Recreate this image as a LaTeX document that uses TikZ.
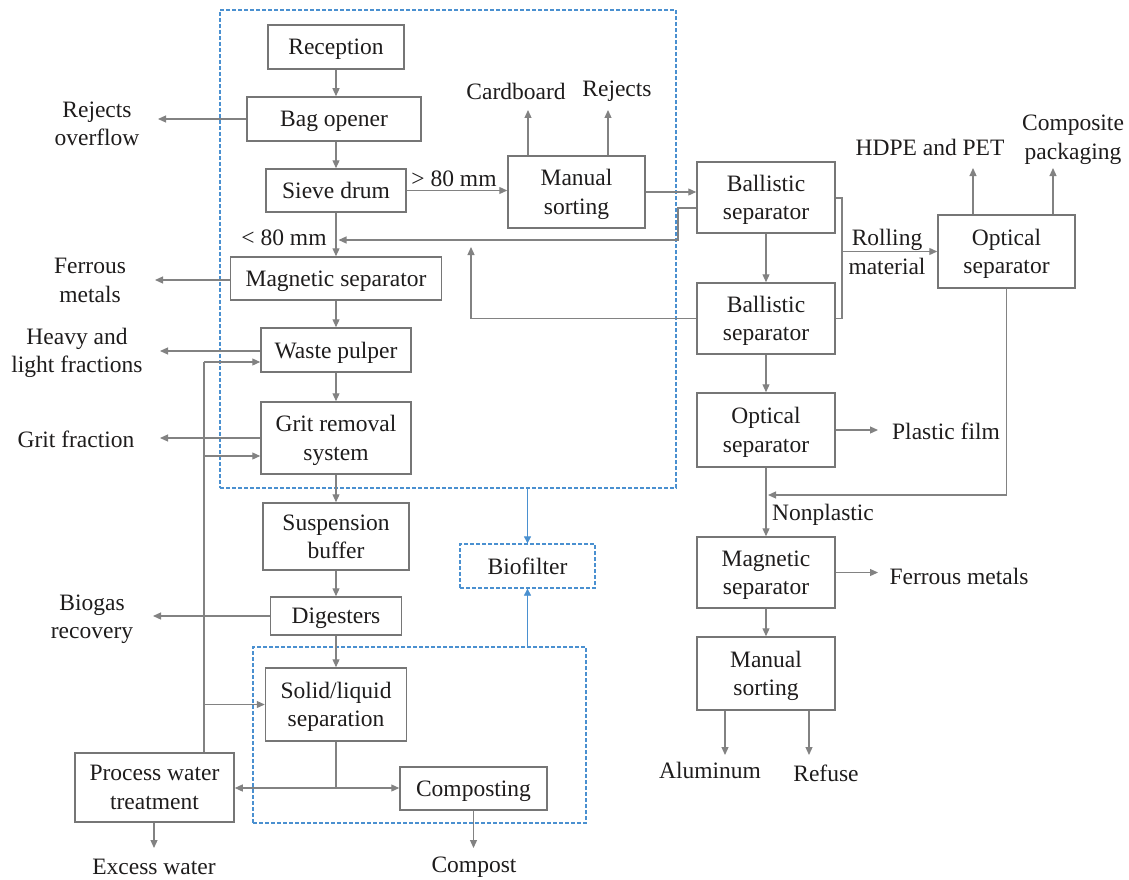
\documentclass[tikz,border=0pt]{standalone}
\usepackage{fontspec}
\setmainfont{Liberation Serif}
\usetikzlibrary{arrows.meta}
\definecolor{linegray}{RGB}{130,130,130}
\definecolor{boxgray}{RGB}{118,118,118}
\definecolor{inkc}{RGB}{30,28,28}
\definecolor{zoneblue}{RGB}{74,144,208}
\begin{document}
\begin{tikzpicture}[x=1pt,y=-1pt,
  every node/.style={font=\fontsize{23.5}{28.5}\selectfont, text=inkc, align=center, inner sep=0pt},
  box/.style={draw=boxgray, line width=1.5pt, text depth=-4pt},
  flow/.style={draw=linegray, line width=1.2pt, -{Triangle[length=8pt,width=7pt]}},
  plain/.style={draw=linegray, line width=1.2pt},
  zone/.style={draw=zoneblue, line width=1.2pt, dash pattern=on 4pt off 2pt},
  zflow/.style={draw=zoneblue, line width=0.7pt, -{Triangle[length=7pt,width=7pt]}}]
\useasboundingbox (0,0) rectangle (1129,880);

% dashed enclosures
\node[zone, minimum width=456, minimum height=478] (zoneA) at (448,249) {};
\node[zone, minimum width=333, minimum height=176] (zoneB) at (419.5,735) {};

% main process boxes
\node[box, minimum width=136, minimum height=44] (rec) at (336,47) {Reception};
\node[box, minimum width=174, minimum height=44] (bag) at (334,119) {Bag opener};
\node[box, minimum width=140, minimum height=43] (sieve) at (336,190.5) {Sieve drum};
\node[box, minimum width=211, minimum height=43] (mag) at (336,278.5) {Magnetic separator};
\node[box, minimum width=150, minimum height=44] (pulp) at (336,350) {Waste pulper};
\node[box, minimum width=150, minimum height=72] (grit) at (336,438) {Grit removal\\system};
\node[box, minimum width=146, minimum height=67] (susp) at (336,536.5) {Suspension\\buffer};
\node[box, minimum width=131, minimum height=38] (dig) at (336,616) {Digesters};
\node[box, minimum width=141, minimum height=73] (sol) at (336,704.5) {Solid/liquid\\separation};
\node[box, minimum width=147, minimum height=43] (comp) at (473.5,788.5) {Composting};
\node[box, minimum width=159, minimum height=69] (pwt) at (154.5,787.5) {Process water\\treatment};
\node[zone, minimum width=135, minimum height=44, text depth=-4pt] (bio) at (527.5,566) {Biofilter};

\node[box, minimum width=137, minimum height=72] (man1) at (576.5,192) {Manual\\sorting};
\node[box, minimum width=138, minimum height=71] (bal1) at (766,197.5) {Ballistic\\separator};
\node[box, minimum width=138, minimum height=71] (bal2) at (766,318.5) {Ballistic\\separator};
\node[box, minimum width=137, minimum height=73] (opt1) at (1006.5,251.5) {Optical\\separator};
\node[box, minimum width=138, minimum height=74] (opt2) at (766,430) {Optical\\separator};
\node[box, minimum width=138, minimum height=71] (mag2) at (766,572.5) {Magnetic\\separator};
\node[box, minimum width=138, minimum height=73] (man2) at (766,673.5) {Manual\\sorting};

% output labels
\node (rejov) at (97,124) {Rejects\\overflow};
\node (ferr1) at (90,280.5) {Ferrous\\metals};
\node (heavy) at (77,353) {Heavy and\\light fractions};
\node (gritf) at (76,439) {Grit fraction};
\node (biogas) at (92,619) {Biogas\\recovery};
\node (excess) at (154,867) {Excess water};
\node (compost) at (474,867) {Compost};
\node (card) at (516,91) {Cardboard};
\node (rej) at (617,91) {Rejects};
\node (hdpe) at (930,147) {HDPE and PET};
\node (cpack) at (1073,140) {Composite\\packaging};
\node (roll) at (887,252) {Rolling\\material};
\node (pfilm) at (946,431) {Plastic film};
\node (nonpl) at (823,515) {Nonplastic};
\node (ferr2) at (959,576) {Ferrous metals};
\node (alu) at (710,770) {Aluminum};
\node (refuse) at (826,773) {Refuse};
\node (gt80) at (454,179) {> 80 mm};
\node (lt80) at (284,238) {< 80 mm};

% arrow end points
\coordinate (t1) at (158,119);
\coordinate (t2) at (155,280);
\coordinate (t3) at (160,351);
\coordinate (t4) at (160,438);
\coordinate (t5) at (153,616);
\coordinate (t6) at (154,848);
\coordinate (t7) at (473.5,848);
\coordinate (c1) at (528,110);
\coordinate (c2) at (608,110);
\coordinate (h1) at (973,168);
\coordinate (h2) at (1053,168);
\coordinate (pf) at (878,430);
\coordinate (fm) at (878,572.5);
\coordinate (al) at (725,755);
\coordinate (rf) at (809,755);

% main line
\draw[flow] (rec.south) -- (rec.south |- bag.north);
\draw[flow] (rec.south |- bag.south) -- (rec.south |- sieve.north);
\draw[flow] (sieve.south) -- (mag.north);
\draw[flow] (mag.south) -- (pulp.north);
\draw[flow] (pulp.south) -- (grit.north);
\draw[flow] (grit.south) -- (susp.north);
\draw[flow] (susp.south) -- (dig.north);
\draw[flow] (dig.south) -- (sol.north);

% side outputs, left
\draw[flow] (bag.west) -- (t1);
\draw[flow] (mag.west |- t2) -- (t2);
\draw[flow] (pulp.west |- t3) -- (t3);
\draw[flow] (grit.west) -- (t4);
\draw[flow] (dig.west) -- (t5);
\draw[flow] (pwt.south -| t6) -- (t6);
\draw[flow] (comp.south) -- (t7);

% process water recirculation
\coordinate (w1) at (204,362);
\coordinate (w2) at (204,456);
\coordinate (w3) at (204,704.5);
\draw[plain] (w1 |- pwt.north) -- (w1);
\draw[flow] (w1) -- (w1 -| pulp.west);
\draw[flow] (w2) -- (w2 -| grit.west);
\draw[flow] (w3) -- (sol.west);

% solid/liquid split
\coordinate (split) at (336,788);
\draw[plain] (sol.south) -- (split);
\draw[flow] (split) -- (split -| pwt.east);
\draw[flow] (split) -- (split -| comp.west);

% coarse fraction
\draw[flow] (sieve.east) -- (sieve.east -| man1.west);
\draw[flow] (c1 |- man1.north) -- (c1);
\draw[flow] (c2 |- man1.north) -- (c2);
\draw[flow] (man1.east) -- (man1.east -| bal1.west);

% returns from ballistic separators
\coordinate (r1) at (678,208);
\coordinate (r2) at (678,240);
\coordinate (r3) at (338.5,240);
\draw[flow] (bal1.west |- r1) -- (r1) -- (r2) -- (r3);
\coordinate (q1) at (471,318.5);
\coordinate (q2) at (471,247);
\draw[flow] (bal2.west) -- (q1) -- (q2);

% rolling material
\coordinate (b1) at (842,198);
\coordinate (b2) at (842,318.5);
\draw[plain] (bal1.east |- b1) -- (b1) -- (b2) -- (bal2.east);
\draw[flow] (b1 |- opt1.west) -- (opt1.west);
\draw[flow] (h1 |- opt1.north) -- (h1);
\draw[flow] (h2 |- opt1.north) -- (h2);

% right line
\draw[flow] (bal1.south) -- (bal2.north);
\draw[flow] (bal2.south) -- (opt2.north);
\draw[flow] (opt2.east) -- (pf);
\draw[flow] (opt2.south) -- (mag2.north);
\coordinate (n1) at (1006.5,495);
\coordinate (n2) at (768,495);
\draw[flow] (opt1.south) -- (n1) -- (n2);
\draw[flow] (mag2.east) -- (fm);
\draw[flow] (mag2.south) -- (man2.north);
\draw[flow] (al |- man2.south) -- (al);
\draw[flow] (rf |- man2.south) -- (rf);

% exhaust air to biofilter
\draw[zflow] (zoneA.south -| bio) -- (bio.north);
\draw[zflow] (zoneB.north -| bio) -- (bio.south);
\end{tikzpicture}
\end{document}
